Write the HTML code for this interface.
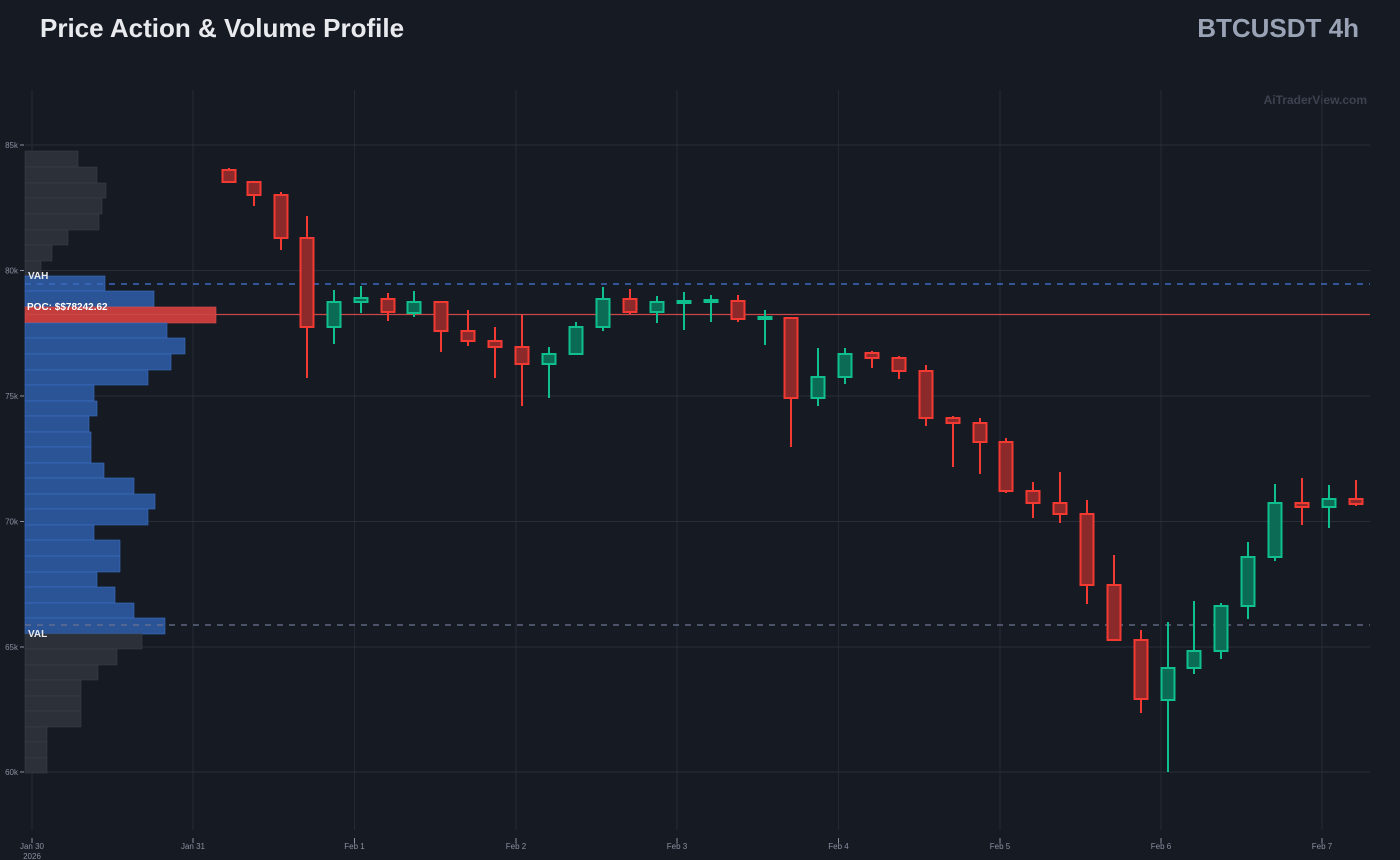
<!DOCTYPE html>
<html><head><meta charset="utf-8"><style>
html,body{margin:0;padding:0;background:#161a23;width:1400px;height:860px;overflow:hidden;font-family:"Liberation Sans",sans-serif}
</style></head><body>
<svg id="s" width="1400" height="860" xmlns="http://www.w3.org/2000/svg" style="position:absolute;left:0;top:0">
<rect width="1400" height="860" fill="#161a23"/>
<text x="40" y="37" font-size="26" font-weight="bold" fill="#e8eaee">Price Action &amp; Volume Profile</text>
<text x="1359" y="37" font-size="26" font-weight="bold" fill="#9aa3b5" text-anchor="end">BTCUSDT 4h</text>
<text x="1367" y="104" font-size="12" font-weight="bold" fill="#3d4250" text-anchor="end">AiTraderView.com</text>
<g id="g"></g>
</svg>
<script>
var g=document.getElementById('g'),h='';
var days=[[32,'Jan 30'],[193,'Jan 31'],[354.5,'Feb 1'],[516,'Feb 2'],[677,'Feb 3'],[838.5,'Feb 4'],[1000,'Feb 5'],[1161,'Feb 6'],[1322,'Feb 7']];
days.forEach(function(d){h+='<line x1="'+d[0]+'" y1="90" x2="'+d[0]+'" y2="830" stroke="#252934" stroke-width="1"/>';
h+='<line x1="'+d[0]+'" y1="838" x2="'+d[0]+'" y2="843" stroke="#8a90a0"/>';
h+='<text x="'+d[0]+'" y="849" font-size="8" fill="#8a90a0" text-anchor="middle">'+d[1]+'</text>';});
h+='<text x="32" y="859" font-size="8" fill="#8a90a0" text-anchor="middle">2026</text>';
[['85k',145],['80k',270.5],['75k',396],['70k',521.5],['65k',647],['60k',772]].forEach(function(t){
h+='<line x1="25" y1="'+t[1]+'" x2="1370" y2="'+t[1]+'" stroke="#2a2e39"/>';
h+='<line x1="20" y1="'+t[1]+'" x2="24" y2="'+t[1]+'" stroke="#8a90a0"/>';
h+='<text x="18" y="'+(t[1]+3)+'" font-size="8" fill="#8a90a0" text-anchor="end">'+t[0]+'</text>';});
var rows=[[151,78,0],[167,97,0],[183,106,0],[198,102,0],[214,99,0],[230,68,0],[245,52,0],[261,41,0],[276,105,1],[291,154,1],[307,216,2],[323,167,1],[338,185,1],[354,171,1],[370,148,1],[385,94,1],[401,97,1],[416,89,1],[432,91,1],[447,91,1],[463,104,1],[478,134,1],[494,155,1],[509,148,1],[525,94,1],[540,120,1],[556,120,1],[572,97,1],[587,115,1],[603,134,1],[618,165,1],[634,142,0],[649,117,0],[665,98,0],[680,81,0],[696,81,0],[711,81,0],[727,47,0],[742,47,0],[758,47,0]];
var cf=['#2c3039','#2b5496','#c43c3c'],cs=['#3a3e47','#3b6fc4','#d85050'];
rows.forEach(function(r,i){var hh=(i<39?rows[i+1][0]:773)-r[0];
h+='<rect x="25" y="'+r[0]+'" width="'+(r[1]-25)+'" height="'+hh+'" fill="'+cf[r[2]]+'" stroke="'+cs[r[2]]+'" stroke-width="0.6"/>';});
h+='<line x1="25" y1="284" x2="1370" y2="284" stroke="#3b6bc0" stroke-width="1.5" stroke-dasharray="6,6"/>';
h+='<line x1="25" y1="314.5" x2="1370" y2="314.5" stroke="#c84848" stroke-width="1.2"/>';
h+='<line x1="25" y1="625" x2="1370" y2="625" stroke="#6a7590" stroke-width="1.2" stroke-dasharray="6,6"/>';
h+='<text x="28" y="279" font-size="10" font-weight="bold" fill="#e8eaee">VAH</text>';
h+='<text x="27" y="310" font-size="10" font-weight="bold" fill="#ffffff">POC: $$78242.62</text>';
h+='<text x="28" y="637" font-size="10" font-weight="bold" fill="#e8eaee">VAL</text>';
// [x, bodyTop, bodyBot, wickTop, wickBot, green?]
var c=[[229,170,182,168,183,0],[254,182,195,181,206,0],[281,195,238,192,250,0],[307,238,327,216,378,0],[334,302,327,290,344,1],[361,298,302,286,313,1],[388,299,312,293,321,0],[414,302,313,291,317,1],[441,302,331,302,352,0],[468,331,341,310,346,0],[495,341,347,327,378,0],[522,347,364,315,406,0],[549,354,364,347,398,1],[576,327,354,322,355,1],[603,299,327,287,331,1],[630,299,312,289,314,0],[657,302,312,296,323,1],[684,301,303,292,330,1],[711,300,302,295,322,1],[738,301,319,295,322,0],[765,317,319,310,345,1],[791,318,398,318,447,0],[818,377,398,348,406,1],[845,354,377,348,384,1],[872,353,358,351,368,0],[899,358,371,356,379,0],[926,371,418,365,426,0],[953,418,423,416,467,0],[980,423,442,418,474,0],[1006,442,491,438,493,0],[1033,491,503,482,518,0],[1060,503,514,472,523,0],[1087,514,585,500,604,0],[1114,585,640,555,641,0],[1141,640,699,630,713,0],[1168,668,700,622,772,1],[1194,651,668,601,674,1],[1221,606,651,603,659,1],[1248,557,606,542,619,1],[1275,503,557,484,561,1],[1302,503,507,478,525,0],[1329,499,507,485,528,1],[1356,499,504,480,506,0]];
c.forEach(function(k){var st=k[5]?'#0fc08e':'#f23a32',fl=k[5]?'#0c6b55':'#8c2a2b';
h+='<line x1="'+k[0]+'" y1="'+k[3]+'" x2="'+k[0]+'" y2="'+k[4]+'" stroke="'+st+'" stroke-width="2"/>';
var bh=Math.max(k[2]-k[1],2);
h+='<rect x="'+(k[0]-6.5)+'" y="'+k[1]+'" width="13" height="'+bh+'" fill="'+fl+'" stroke="'+st+'" stroke-width="2"/>';});
g.innerHTML=h;
</script>
</body></html>
